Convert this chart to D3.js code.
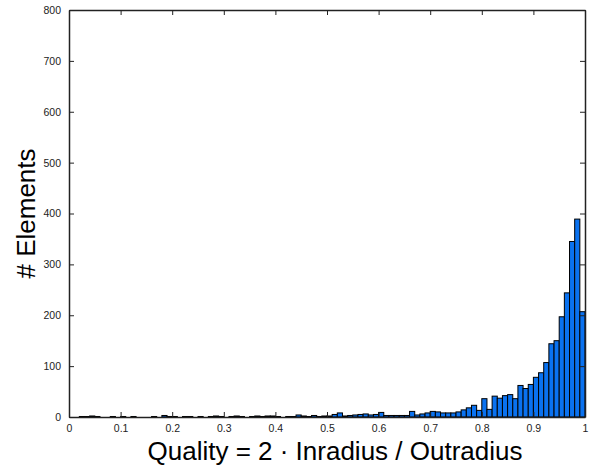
<!DOCTYPE html>
<html>
<head>
<meta charset="utf-8">
<script src="https://cdn.jsdelivr.net/npm/d3@7"></script>
<style>
  body { margin: 0; background: #fff; }
  svg text { font-family: "Liberation Sans", Arial, sans-serif; }
</style>
</head>
<body>
<div id="chart"></div>
<script>
// histogram counts, 100 bins of width 0.01 from 0 to 1
const counts = [
  0, 0, 1, 1, 2, 1, 0, 0, 1, 0,
  1, 0, 1, 0, 0, 0, 1, 0, 3, 1,
  1, 0, 1, 1, 0, 1, 0, 1, 2, 1,
  0, 1, 2, 1, 0, 1, 2, 1, 2, 2,
  1, 0, 1, 1, 4, 2, 1, 3, 1, 2,
  2, 5, 8, 2, 3, 4, 5, 6, 4, 5,
  9, 3, 3, 3, 3, 3, 11, 4, 6, 8,
  11, 10, 8, 8, 8, 10, 14, 18, 23, 13,
  36, 15, 41, 37, 42, 44, 36, 62, 56, 64,
  78, 87, 107, 144, 150, 197, 244, 345, 389, 207
];
const binWidth = 0.01;
const xTicks = [0, 0.1, 0.2, 0.3, 0.4, 0.5, 0.6, 0.7, 0.8, 0.9, 1];
const yTicks = [0, 100, 200, 300, 400, 500, 600, 700, 800];
const xLabel = "Quality = 2 \u00b7 Inradius / Outradius";
const yLabel = "# Elements";

const W = 593, H = 468;
const margins = { top: 10, right: 8, bottom: 51, left: 69 };
const width = W - margins.left - margins.right;
const height = H - margins.top - margins.bottom;

const bins = counts.map((c, i) => ({ x0: i * binWidth, x1: (i + 1) * binWidth, n: c }));

const svg = d3.select("#chart")
  .append("svg")
  .attr("width", W)
  .attr("height", H)
  .append("g")
  .attr("transform", `translate(${margins.left},${margins.top})`);

const x = d3.scaleLinear().domain([0, 1]).range([0, width]);
const y = d3.scaleLinear().domain([0, 800]).range([height, 0]);

// bars
svg.selectAll(".bar")
  .data(bins)
  .join("rect")
  .attr("class", "bar")
  .attr("x", d => x(d.x0))
  .attr("y", d => y(d.n))
  .attr("width", d => x(d.x1) - x(d.x0))
  .attr("height", d => y(0) - y(d.n))
  .attr("fill", "#0a72f0")
  .attr("stroke", "#000")
  .attr("stroke-width", 1);

// axes, MATLAB-style box with inward ticks
const tickLen = 5;
const fmt = d => d3.format("~g")(d);

const bottomAxis = svg.append("g")
  .attr("transform", `translate(0,${height})`)
  .call(d3.axisBottom(x).tickValues(xTicks).tickFormat(fmt).tickSizeInner(-tickLen).tickSizeOuter(0).tickPadding(8));
const topAxis = svg.append("g")
  .call(d3.axisTop(x).tickValues(xTicks).tickFormat("").tickSizeInner(-tickLen).tickSizeOuter(0));
const leftAxis = svg.append("g")
  .call(d3.axisLeft(y).tickValues(yTicks).tickFormat(fmt).tickSizeInner(-tickLen).tickSizeOuter(0).tickPadding(8));
const rightAxis = svg.append("g")
  .attr("transform", `translate(${width},0)`)
  .call(d3.axisRight(y).tickValues(yTicks).tickFormat("").tickSizeInner(-tickLen).tickSizeOuter(0));

[bottomAxis, topAxis, leftAxis, rightAxis].forEach(a => {
  a.select(".domain").attr("stroke", "#222").attr("stroke-width", 1.5);
  a.selectAll(".tick line").attr("stroke", "#222");
  a.selectAll(".tick text").attr("font-size", 10.5).attr("fill", "#222")
    .style("font-family", "Liberation Sans, Arial, sans-serif");
});

// axis labels
svg.append("text")
  .attr("x", width / 2 + 8)
  .attr("y", height + 43)
  .attr("text-anchor", "middle")
  .attr("font-size", 26)
  .attr("fill", "#000")
  .text(xLabel);

svg.append("text")
  .attr("transform", "rotate(-90)")
  .attr("x", -height / 2)
  .attr("y", -34)
  .attr("text-anchor", "middle")
  .attr("font-size", 26)
  .attr("fill", "#000")
  .text(yLabel);
</script>
</body>
</html>
